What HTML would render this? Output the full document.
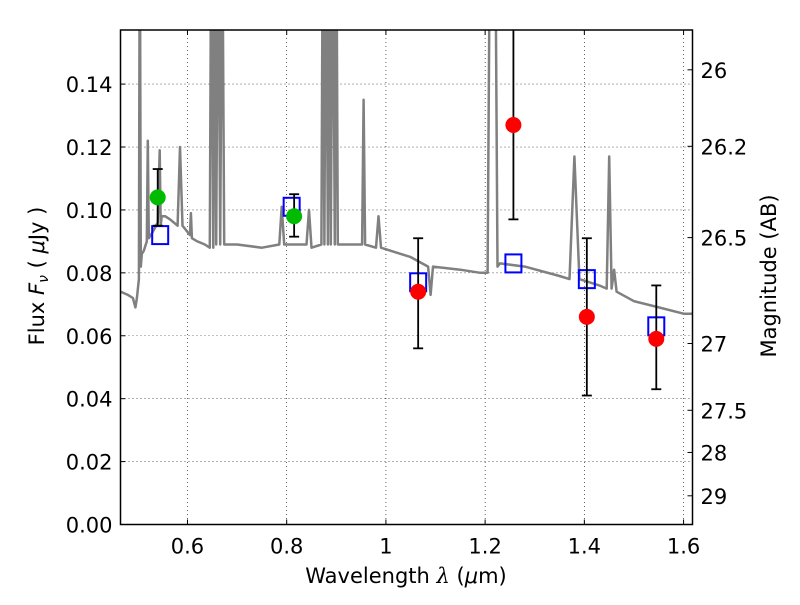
<!DOCTYPE html>
<html><head><meta charset="utf-8"><style>
body{margin:0;background:#fff;}
svg text{font-family:"DejaVu Sans","Liberation Sans",sans-serif;fill:#000;}
</style></head><body>
<svg id="chart" width="800" height="600" xmlns="http://www.w3.org/2000/svg"></svg>
<script>
const xTicks=[0.6,0.8,1.0,1.2,1.4,1.6];
const xTickLabels=["0.6","0.8","1","1.2","1.4","1.6"];
const yTicks=[0,0.02,0.04,0.06,0.08,0.10,0.12,0.14];
const yTickLabels=["0.00","0.02","0.04","0.06","0.08","0.10","0.12","0.14"];
const magTicks=[26,26.2,26.5,27,27.5,28,29];
const magTickLabels=["26","26.2","26.5","27","27.5","28","29"];
const specWl=[0.465,0.48,0.49,0.495,0.498,0.502,0.504,0.506,0.508,0.512,0.518,0.52,0.522,0.53,0.54,0.544,0.546,0.548,0.555,0.565,0.58,0.585,0.59,0.6,0.605,0.607,0.609,0.62,0.635,0.645,0.648,0.652,0.655,0.658,0.662,0.666,0.67,0.674,0.68,0.7,0.75,0.785,0.79,0.795,0.8,0.83,0.84,0.845,0.85,0.87,0.873,0.876,0.879,0.883,0.886,0.889,0.893,0.897,0.9,0.903,0.906,0.93,0.952,0.955,0.958,0.98,0.985,0.99,1.05,1.085,1.09,1.095,1.15,1.19,1.205,1.21,1.215,1.22,1.225,1.23,1.28,1.35,1.37,1.38,1.39,1.43,1.445,1.45,1.455,1.46,1.465,1.5,1.55,1.6,1.62];
const specFlux=[0.074,0.073,0.072,0.069,0.072,0.078,0.2,0.082,0.086,0.087,0.09,0.122,0.091,0.093,0.096,0.119,0.095,0.098,0.098,0.097,0.095,0.12,0.095,0.093,0.092,0.099,0.091,0.09,0.089,0.088,0.2,0.088,0.2,0.089,0.2,0.089,0.2,0.089,0.089,0.089,0.088,0.089,0.101,0.089,0.089,0.089,0.089,0.1,0.088,0.089,0.2,0.089,0.2,0.089,0.2,0.089,0.2,0.089,0.2,0.089,0.089,0.089,0.089,0.135,0.089,0.088,0.098,0.088,0.085,0.082,0.073,0.082,0.081,0.08,0.08,0.2,0.2,0.2,0.082,0.083,0.082,0.079,0.078,0.117,0.078,0.076,0.075,0.117,0.075,0.081,0.074,0.071,0.069,0.067,0.067];
const greenWl=[0.54,0.815], greenFlux=[0.104,0.098], greenLo=[0.095,0.0915], greenHi=[0.113,0.105];
const blueWl=[0.545,0.81,1.065,1.257,1.405,1.545], blueFlux=[0.092,0.101,0.077,0.083,0.078,0.063];
const redWl=[1.065,1.257,1.405,1.545], redFlux=[0.074,0.127,0.066,0.059], redLo=[0.056,0.097,0.041,0.043], redHi=[0.091,0.2,0.091,0.076];

const L=120.5,R=692.5,T=30,B=524.5;
const xMin=0.465,xMax=1.618,yMin=0,yMax=0.1572;
const X=v=>L+(v-xMin)/(xMax-xMin)*(R-L);
const Y=v=>B-(v-yMin)/(yMax-yMin)*(B-T);
const NS="http://www.w3.org/2000/svg";
const svg=document.getElementById('chart');
function mk(tag,attrs,parent){const e=document.createElementNS(NS,tag);for(const k in attrs)e.setAttribute(k,attrs[k]);(parent||svg).appendChild(e);return e;}
const clipDef=mk('defs',{});const cp=mk('clipPath',{id:'pc'},clipDef);mk('rect',{x:L,y:T,width:R-L,height:B-T},cp);

const grid=mk('g',{});


xTicks.forEach((t,i)=>{const x=X(t);
 mk('line',{x1:x,x2:x,y1:T,y2:B,stroke:'#000','stroke-width':0.6,'stroke-dasharray':'1,3'},grid);
 mk('line',{x1:x,x2:x,y1:B,y2:B-5,stroke:'#000'});mk('line',{x1:x,x2:x,y1:T,y2:T+5,stroke:'#000'});
 const tx=mk('text',{x:x,y:B+29,'font-size':21,'text-anchor':'middle'});tx.textContent=xTickLabels[i];
 
 
});
yTicks.forEach((t,i)=>{const y=Y(t);
 if(t>0) mk('line',{x1:L,x2:R,y1:y,y2:y,stroke:'#000','stroke-width':0.6,'stroke-dasharray':'1,3'},grid);
 mk('line',{x1:L,x2:L+5,y1:y,y2:y,stroke:'#000'});
 const tx=mk('text',{x:L-8,y:y+8,'font-size':21,'text-anchor':'end'});tx.textContent=yTickLabels[i];
 
 
});
magTicks.forEach((m,i)=>{const f=Math.pow(10,(23.9-m)/2.5);const y=Y(f);
 mk('line',{x1:R-5,x2:R,y1:y,y2:y,stroke:'#000'});
 const tx=mk('text',{x:R+8,y:y+8,'font-size':21});tx.textContent=magTickLabels[i];
 
 
});
const g=mk('g',{'clip-path':'url(#pc)'});
const sp=mk('path',{d:specWl.map((w,i)=>(i?'L':'M')+X(w).toFixed(1)+','+Y(specFlux[i]).toFixed(1)).join(''),fill:'none',stroke:'#808080','stroke-width':2.5,'stroke-linejoin':'round'},g);


function eb(x,lo,hi){mk('line',{x1:X(x),x2:X(x),y1:Y(lo),y2:Y(hi),stroke:'#000','stroke-width':1.8},g);
 [lo,hi].forEach(v=>mk('line',{x1:X(x)-5,x2:X(x)+5,y1:Y(v),y2:Y(v),stroke:'#000','stroke-width':1.8},g));}
blueWl.forEach((w,i)=>{const r=mk('rect',{x:X(w)-8,y:Y(blueFlux[i])-9,width:16,height:18,fill:'none',stroke:'#0000ff','stroke-width':2},g);
 
 });
greenWl.forEach((w,i)=>{eb(w,greenLo[i],greenHi[i]);const c=mk('circle',{cx:X(w),cy:Y(greenFlux[i]),r:8,fill:'#00bb00'},g);
 
 });
redWl.forEach((w,i)=>{eb(w,redLo[i],redHi[i]);const c=mk('circle',{cx:X(w),cy:Y(redFlux[i]),r:8,fill:'#ff0000'},g);
 
 });
const fr=mk('rect',{x:L,y:T,width:R-L,height:B-T,fill:'none',stroke:'#000','stroke-width':1.5});


const xt=mk('text',{x:406,y:583,'font-size':21,'text-anchor':'middle'});
xt.innerHTML='Wavelength  <tspan font-style="italic" font-family="DejaVu Serif, serif">λ</tspan> (<tspan font-style="italic">μ</tspan>m)';


const yt=mk('text',{x:0,y:0,'font-size':21,'text-anchor':'middle',transform:'translate(44,276) rotate(-90)'});
yt.innerHTML='Flux  <tspan font-style="italic">F</tspan><tspan font-style="italic" font-size="14" dy="4">ν</tspan><tspan dy="-4">  (  </tspan><tspan font-style="italic">μ</tspan>Jy )';


const rt=mk('text',{x:0,y:0,'font-size':21,'text-anchor':'middle',transform:'translate(776,276) rotate(-90)'});
rt.textContent='Magnitude (AB)';


</script>
</body></html>
